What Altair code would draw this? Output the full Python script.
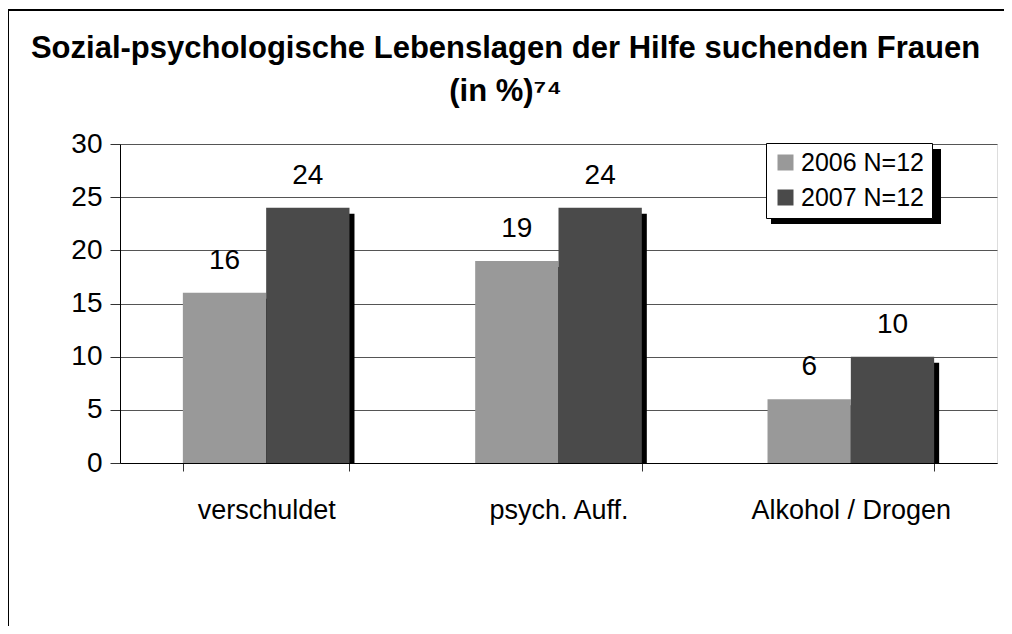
import altair as alt
import pandas as pd

categories = ["verschuldet", "psych. Auff.", "Alkohol / Drogen"]
series = ["2006 N=12", "2007 N=12"]
values_2006 = [16, 19, 6]
values_2007 = [24, 24, 10]
colors = ["#999999", "#4a4a4a"]
y_ticks = [0, 5, 10, 15, 20, 25, 30]

rows = []
for c, v in zip(categories, values_2006):
    rows.append({"cat": c, "series": series[0], "value": v})
for c, v in zip(categories, values_2007):
    rows.append({"cat": c, "series": series[1], "value": v})
df = pd.DataFrame(rows)

FONT = "Liberation Sans"
W, H = 877, 319
BANDW = W / 3 * 0.57

x_enc = alt.X("cat:N", sort=categories,
              scale=alt.Scale(paddingInner=0.43, paddingOuter=0.215),
              axis=alt.Axis(title=None, labelAngle=0, labelFontSize=27, labelFont=FONT,
                            labelColor="black", labelPadding=26, tickBand="extent",
                            tickSize=8, tickColor="#333333", domainColor="black",
                            grid=False, labelLimit=0))
xoff = alt.XOffset("series:N", sort=series,
                   scale=alt.Scale(type="band", paddingInner=0, paddingOuter=0))
xoff_shadow = alt.XOffset("series:N", sort=series,
                          scale=alt.Scale(type="band", paddingInner=0, paddingOuter=0,
                                          range=[5, 5 + BANDW]))
y_enc = alt.Y("value:Q", scale=alt.Scale(domain=[0, 30], nice=False),
              axis=alt.Axis(title=None, values=y_ticks, labelFontSize=28, labelFont=FONT,
                            labelColor="black", labelPadding=8, tickSize=10,
                            tickColor="#333333", domainColor="black", grid=True,
                            gridColor="#555555", gridWidth=1))

base = alt.Chart(df)

shadow = base.mark_bar(color="black", yOffset=6, clip=True).encode(
    x=x_enc, xOffset=xoff_shadow, y=y_enc)

bars = base.mark_bar().encode(
    x=x_enc, xOffset=xoff, y=y_enc,
    color=alt.Color("series:N", sort=series,
                    scale=alt.Scale(domain=series, range=colors),
                    legend=alt.Legend(title=None, orient="none", legendX=646, legendY=-1,
                                      padding=7, strokeColor="black", fillColor="white",
                                      symbolType="square", symbolSize=256,
                                      symbolStrokeWidth=0, labelFontSize=25,
                                      labelFont=FONT, labelColor="black",
                                      rowPadding=9, labelOffset=3)))

labels = base.mark_text(fontSize=28, font=FONT, color="black", baseline="alphabetic", dy=-24).encode(
    x=x_enc, xOffset=xoff, y=y_enc, text=alt.Text("value:Q"))

legend_shadow = alt.Chart(df).mark_rect(color="black").encode(
    x=alt.value(651), x2=alt.value(821), y=alt.value(5), y2=alt.value(80))

frame_left = alt.Chart(df).mark_rule(color="black", strokeWidth=2).encode(
    x=alt.value(-112), y=alt.value(-134), y2=alt.value(482))
frame_top = alt.Chart(df).mark_rule(color="black", strokeWidth=2).encode(
    x=alt.value(-113), x2=alt.value(900), y=alt.value(-134))

chart = alt.layer(shadow, legend_shadow, bars, labels, frame_left, frame_top).resolve_scale(
    xOffset="independent"
).properties(
    width=W, height=H,
    autosize=alt.AutoSizeParams(type="none"),
    padding={"left": 112, "top": 136, "right": 7, "bottom": 163},
    title=alt.Title(["Sozial-psychologische Lebenslagen der Hilfe suchenden Frauen", "(in %)⁷⁴"],
                    font=FONT, fontSize=31, fontWeight="bold", color="black",
                    anchor="middle", frame="group", dx=-53, offset=-99, lineHeight=43),
).configure_view(stroke=None).configure(background="white")

chart.save("out.html", embed_options={"renderer": "svg", "actions": False})
